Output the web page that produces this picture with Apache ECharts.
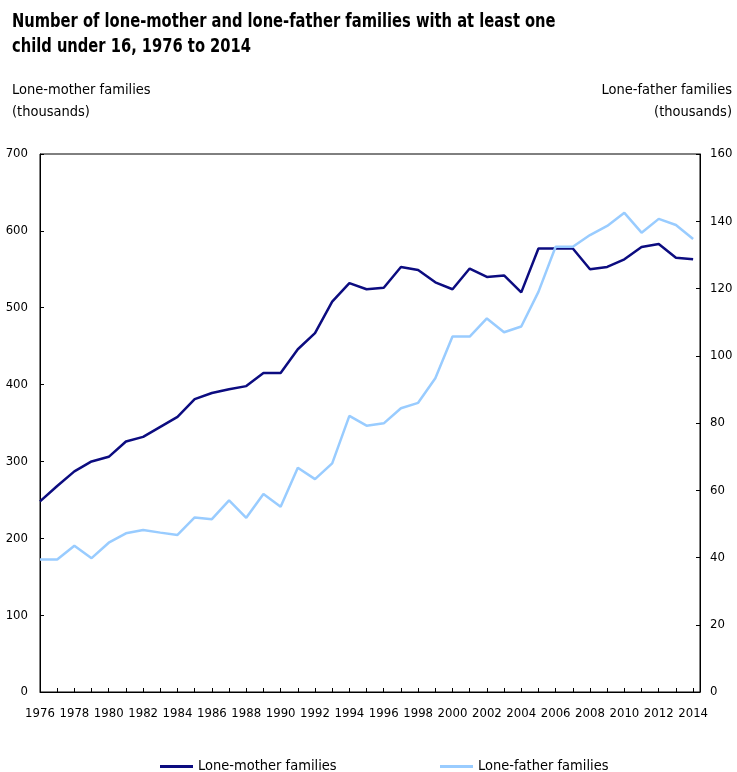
<!DOCTYPE html>
<html>
<head>
<meta charset="utf-8">
<script src="https://cdn.jsdelivr.net/npm/echarts@6/dist/echarts.min.js"></script>
<style>
  html, body { margin: 0; padding: 0; background: #fff; }
  #chart { width: 737px; height: 772px; }
</style>
</head>
<body>
<div id="chart"></div>
<script>
// years 1976..2014
const years = [1976, 1977, 1978, 1979, 1980, 1981, 1982, 1983, 1984, 1985,
  1986, 1987, 1988, 1989, 1990, 1991, 1992, 1993, 1994, 1995,
  1996, 1997, 1998, 1999, 2000, 2001, 2002, 2003, 2004, 2005,
  2006, 2007, 2008, 2009, 2010, 2011, 2012, 2013, 2014];

// lone-mother families, thousands (left axis)
const motherFamilies = [248, 268, 287, 300, 306, 326, 332, 345, 358, 381,
  389, 394, 398, 415, 415, 446, 467, 508, 532, 524,
  526, 553, 549, 533, 524, 551, 540, 542, 520, 577,
  577, 577, 550, 553, 563, 579, 583, 565, 563];

// lone-father families, thousands (right axis)
const fatherFamilies = [39.4, 39.4, 43.5, 39.8, 44.4, 47.2, 48.2, 47.4, 46.7, 51.9,
  51.4, 57.0, 51.8, 58.9, 55.1, 66.7, 63.3, 68.0, 82.1, 79.2,
  79.9, 84.4, 86.0, 93.3, 105.7, 105.7, 111.1, 107.0, 108.7, 119.0,
  132.4, 132.4, 135.9, 138.6, 142.5, 136.6, 140.7, 138.9, 134.7];

const leftTicks = [0, 700, 100];   // min, max, step
const rightTicks = [0, 160, 20];

const titleLines = ['Number of lone-mother and lone-father families with at least one',
  'child under 16, 1976 to 2014'];
const leftAxisTitle = ['Lone-mother families', '(thousands)'];
const rightAxisTitle = ['Lone-father families', '(thousands)'];

const FONT = "'DejaVu Sans Condensed', 'Liberation Sans Narrow', sans-serif";
const chart = echarts.init(document.getElementById('chart'));

// plain text helper for the graphic layer
function label(text, x, y, size, weight, align, sx) {
  return {
    type: 'text', x: x, y: y, scaleX: sx || 1, silent: true,
    style: {
      text: text, fill: '#000', align: align || 'left', verticalAlign: 'middle',
      font: (weight || 'normal') + ' ' + size + 'px ' + FONT
    }
  };
}

const option = {
  backgroundColor: '#fff',
  animation: false,
  graphic: [
    label(titleLines[0], 12, 22, 19, 'bold', 'left', 0.86),
    label(titleLines[1], 12, 47, 19, 'bold', 'left', 0.86),
    label(leftAxisTitle[0], 12, 90, 14.5),
    label(leftAxisTitle[1], 12, 112, 14.5),
    label(rightAxisTitle[0], 732, 90, 14.5, 'normal', 'right'),
    label(rightAxisTitle[1], 732, 112, 14.5, 'normal', 'right')
  ],
  legend: [
    {
      left: 155, top: 754, icon: 'rect', itemWidth: 33, itemHeight: 3, itemGap: 0,
      data: ['Lone-mother families'],
      textStyle: { fontFamily: FONT, fontSize: 14.5, color: '#000' }
    },
    {
      left: 435, top: 754, icon: 'rect', itemWidth: 33, itemHeight: 3, itemGap: 0,
      data: ['Lone-father families'],
      textStyle: { fontFamily: FONT, fontSize: 14.5, color: '#000' }
    }
  ],
  grid: {
    left: 40, right: 37, top: 154, bottom: 80,
    show: true, borderColor: '#000', borderWidth: 1, backgroundColor: 'transparent'
  },
  xAxis: {
    type: 'value',
    min: years[0],
    max: years[years.length - 1] + 0.4,
    interval: 1,
    splitLine: { show: false },
    axisLine: { lineStyle: { color: '#000', width: 1 } },
    axisTick: { inside: true, length: 4, lineStyle: { color: '#000' } },
    axisLabel: {
      fontFamily: FONT, fontSize: 13, color: '#000', margin: 15,
      showMaxLabel: false,
      formatter: v => (Number.isInteger(v) && v % 2 === 0) ? String(v) : ''
    }
  },
  yAxis: [
    {
      type: 'value', position: 'left',
      min: leftTicks[0], max: leftTicks[1], interval: leftTicks[2],
      splitLine: { show: false },
      axisLine: { show: true, lineStyle: { color: '#000', width: 1 } },
      axisTick: { show: true, inside: true, length: 4, lineStyle: { color: '#000' } },
      axisLabel: { fontFamily: FONT, fontSize: 13, color: '#000', margin: 12 }
    },
    {
      type: 'value', position: 'right',
      min: rightTicks[0], max: rightTicks[1], interval: rightTicks[2],
      splitLine: { show: false },
      axisLine: { show: true, lineStyle: { color: '#000', width: 1 } },
      axisTick: { show: true, inside: true, length: 4, lineStyle: { color: '#000' } },
      axisLabel: { fontFamily: FONT, fontSize: 13, color: '#000', margin: 10 }
    }
  ],
  series: [
    {
      name: 'Lone-mother families',
      type: 'line', yAxisIndex: 0, symbol: 'none',
      data: years.map((y, i) => [y, motherFamilies[i]]),
      lineStyle: { color: '#0c0c80', width: 2.5 },
      itemStyle: { color: '#0c0c80' }
    },
    {
      name: 'Lone-father families',
      type: 'line', yAxisIndex: 1, symbol: 'none',
      data: years.map((y, i) => [y, fatherFamilies[i]]),
      lineStyle: { color: '#99ccff', width: 2.5 },
      itemStyle: { color: '#99ccff' }
    }
  ]
};

chart.setOption(option);
</script>
</body>
</html>
